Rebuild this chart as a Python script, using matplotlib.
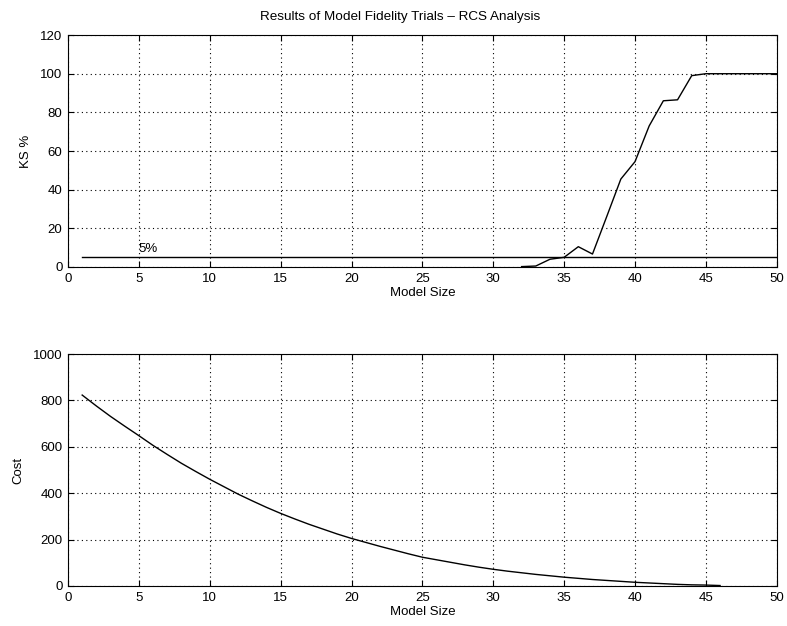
import matplotlib
matplotlib.use("Agg")
import matplotlib.pyplot as plt

plt.rcParams['font.family'] = ['Liberation Sans', 'DejaVu Sans']

# KS % data (top)
ks_x = [32, 33, 34, 35, 36, 37, 38, 39, 40, 41, 42, 43, 44, 45, 46, 47, 48, 49, 50]
ks_y = [0.2, 0.5, 4, 5, 10.5, 6.7, 26, 45.5, 54.5, 73, 86, 86.5, 99, 100, 100, 100, 100, 100, 100]
thr_x = [1, 50]
thr_y = [5, 5]
thr_label = "5%"

# Cost data (bottom)
cost_x = list(range(1, 47))
cost_y = [823, 776, 731, 689, 648, 606, 567, 529, 494, 460,
          428, 396, 367, 339, 313, 289, 266, 245, 224, 205,
          188, 171, 155, 139, 124, 113, 102, 91, 81, 72,
          64, 57, 50, 44, 38, 33, 28, 24, 20, 16,
          13, 10, 7, 5, 4, 2]

xticks = list(range(0, 51, 5))
ks_yticks = list(range(0, 121, 20))
cost_yticks = list(range(0, 1001, 200))

title = "Results of Model Fidelity Trials \u2013 RCS Analysis"

fig = plt.figure(figsize=(7.87, 6.26), dpi=100)
ax1 = fig.add_axes([0.0864, 0.5735, 0.9006, 0.3705])
ax2 = fig.add_axes([0.0864, 0.0639, 0.9006, 0.3706])

fs = 9.5
for ax in (ax1, ax2):
    ax.set_xlim(0, 50)
    ax.set_xticks(xticks)
    ax.grid(True, color='black', linestyle=(0, (1, 3)), linewidth=0.8)
    ax.tick_params(direction='in', top=True, right=True, length=4, width=0.8,
                   labelsize=fs, pad=4)
    for s in ax.spines.values():
        s.set_linewidth(0.8)
    ax.set_xlabel("Model Size", fontsize=fs, labelpad=1.5)

ax1.plot(ks_x, ks_y, color='black', linewidth=1.0)
ax1.plot(thr_x, thr_y, color='black', linewidth=1.0)
ax1.text(5, 7.5, thr_label, fontsize=fs)
ax1.set_ylim(0, 120)
ax1.set_yticks(ks_yticks)
ax1.set_ylabel("KS %", fontsize=fs, labelpad=6)

ax2.plot(cost_x, cost_y, color='black', linewidth=1.0)
ax2.set_ylim(0, 1000)
ax2.set_yticks(cost_yticks)
ax2.set_ylabel("Cost", fontsize=fs, labelpad=6)

fig.text(400 / 787, 1 - 17 / 626, title, fontsize=9.7, ha='center', va='center')

fig.savefig("out.png", dpi=100)
